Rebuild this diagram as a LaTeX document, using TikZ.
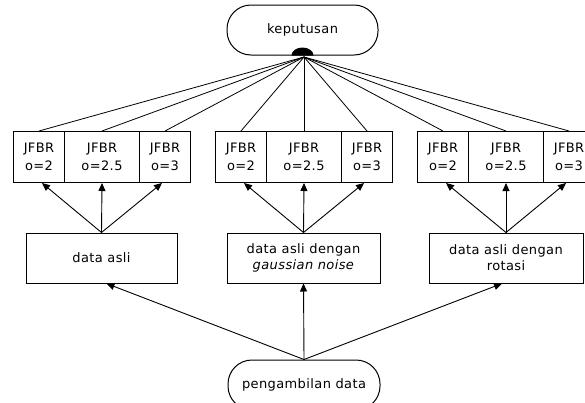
\documentclass[tikz,border=0pt]{standalone}
\usepackage{fontspec}
\setmainfont{DejaVu Sans}[LetterSpace=3]
\usetikzlibrary{arrows.meta}

\tikzset{
  txt/.style={font=\fontsize{13}{16}\selectfont, text=black, align=center, inner sep=0pt},
  term/.style={txt, draw, line width=1pt, rounded corners=24pt,
               minimum width=151pt, minimum height=50pt},
  cell/.style={txt, draw, line width=1pt, anchor=north west,
               minimum height=51pt, font=\fontsize{13}{18}\selectfont},
  cellS/.style={cell, minimum width=51pt},
  cellL/.style={cell, minimum width=75pt},
  databox/.style={txt, draw, line width=1pt, minimum height=50pt},
  arr/.style={line width=0.9pt, -{Triangle[length=8pt,width=7pt]}},
  fan/.style={line width=0.8pt}
}

\begin{document}
\begin{tikzpicture}[x=1pt, y=-1pt]
  \useasboundingbox (0,0) rectangle (585,402);
  \fill[white] (0,0) rectangle (585,402);
  \clip (0,0) rectangle (585,402);

  % decision terminal and its join point
  \node[term] (kep) at (302.5,30) {keputusan};
  \coordinate (hub) at (304,57);

  % the three triples of JFBR classifiers
  \foreach \g/\L in {1/13, 2/215, 3/417} {
    \node[cellS] (j\g a) at (\L,131) {JFBR\\o=2};
    \node[cellL] (j\g b) at (\L+51,131) {JFBR\\o=2.5};
    \node[cellS] (j\g c) at (\L+126,131) {JFBR\\o=3};
  }

  % data variants
  \node[databox, minimum width=151pt] (d1) at (101.5,258) {data asli};
  \node[databox, minimum width=153pt] (d2) at (303.5,258) {data asli dengan\\\textit{gaussian noise}};
  \node[databox, minimum width=154pt] (d3) at (506,258) {data asli dengan\\rotasi};

  % data acquisition terminal
  \node[term, minimum width=152pt] (amb) at (304,385) {pengambilan data};

  % fan-in of every classifier to the decision
  \foreach \g in {1,2,3} {
    \foreach \c in {a,b,c} {
      \draw[fan] (hub) -- (j\g\c.north);
    }
  }
  \fill[black] ([xshift=-11pt]kep.south) arc[start angle=180, end angle=360,
               x radius=11pt, y radius=-8pt] -- cycle;

  % each data variant feeds its three classifiers
  \foreach \g in {1,2,3} {
    \draw[arr] (d\g.north) -- ([xshift=3pt]j\g a.south);
    \draw[arr] (d\g.north) -- (j\g b.south);
    \draw[arr] (d\g.north) -- ([xshift=-3pt]j\g c.south);
  }

  % acquisition feeds the three data variants
  \draw[arr] (amb.north) -- ([xshift=5pt]d1.south);
  \draw[arr] (amb.north) -- (d2.south);
  \draw[arr] (amb.north) -- ([xshift=-4pt]d3.south);
\end{tikzpicture}
\end{document}
